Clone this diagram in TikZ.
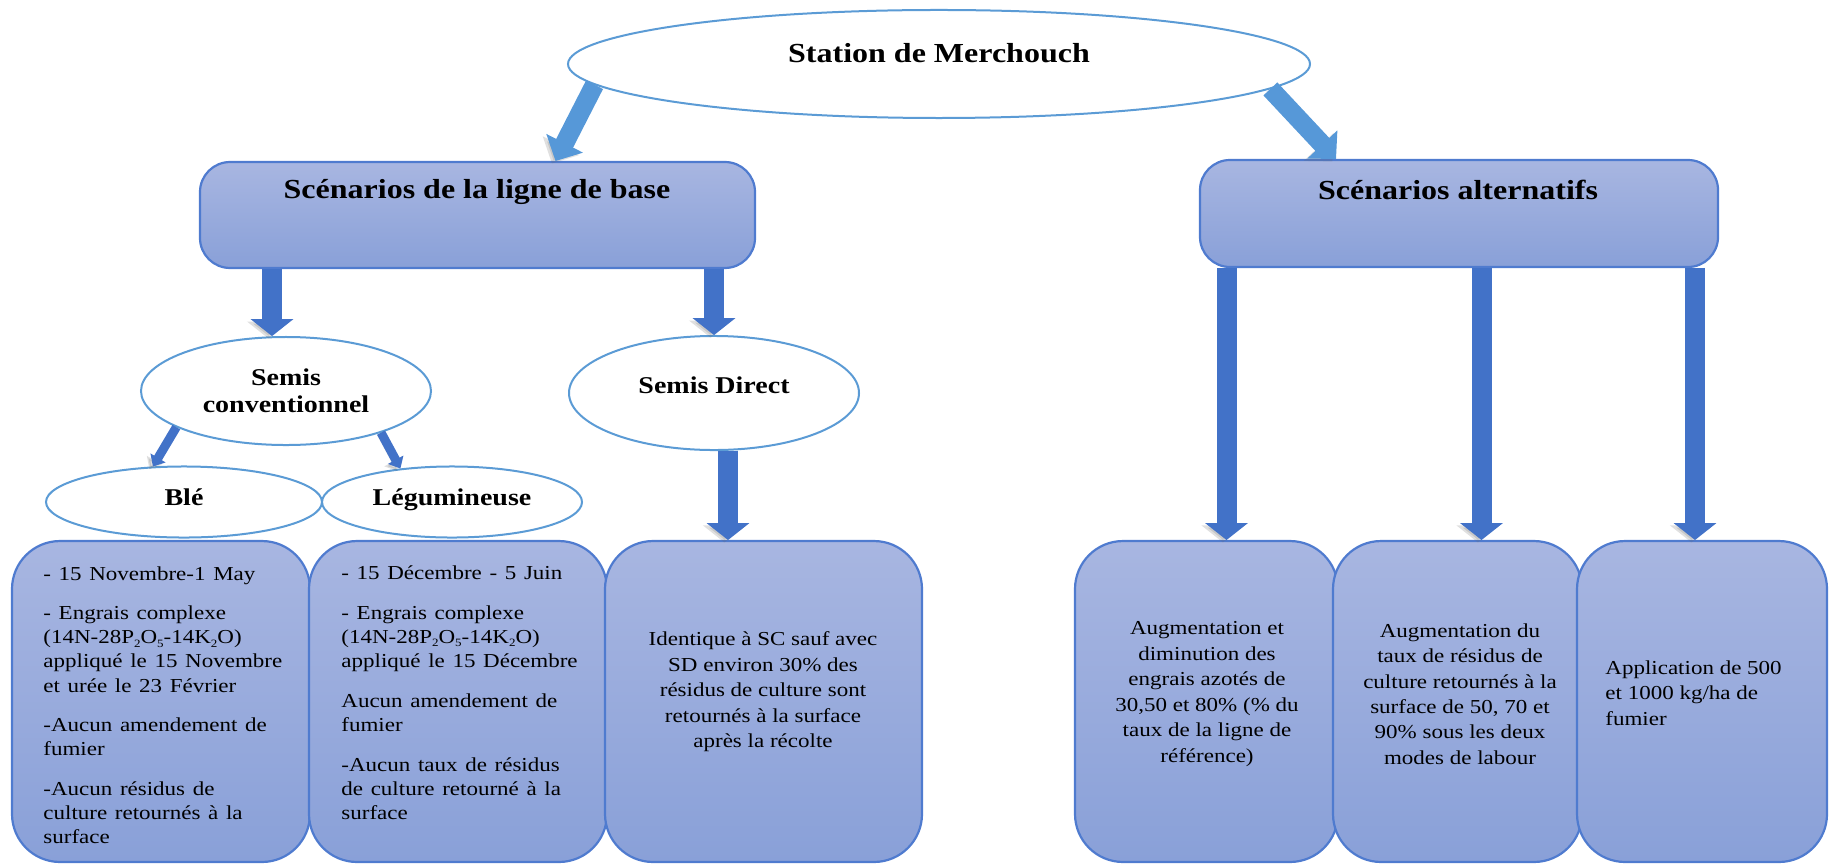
\documentclass[tikz,border=0pt]{standalone}
\usepackage{fontspec}
\setmainfont{Liberation Serif}
\usetikzlibrary{shapes.geometric,arrows.meta}

\definecolor{boxtop}{RGB}{168,182,225}
\definecolor{boxbot}{RGB}{137,160,216}
\definecolor{boxline}{RGB}{79,123,207}
\definecolor{ovalline}{RGB}{91,155,213}
\definecolor{arrowdark}{RGB}{66,114,200}
\definecolor{arrowlight}{RGB}{86,152,216}

% small lowered index for the fertiliser formula
\newcommand\chemsub[1]{\raisebox{-0.35ex}{\fontsize{6.5}{7}\selectfont #1}}

\begin{document}
\begin{tikzpicture}[x=0.5pt, y={(0pt,-0.5814pt)}, yscale=0.86,
  every node/.style={transform shape},
  oval/.style={ellipse, draw=ovalline, line width=1pt, fill=white, inner sep=0pt},
  panel/.style={rectangle, rounded corners=15pt, draw=boxline, line width=1.1pt,
                top color=boxtop, bottom color=boxbot, inner sep=0pt},
  card/.style={panel, rounded corners=24pt, minimum height=186.6pt},
  title/.style={font=\fontsize{16}{19}\selectfont\bfseries, inner sep=0pt},
  ovaltext/.style={font=\fontsize{14}{15.5}\selectfont\bfseries},
  body/.style={font=\fontsize{11.5}{14}\selectfont, inner sep=0pt},
  bodywide/.style={font=\fontsize{11.5}{14.8}\selectfont, inner sep=0pt},
  soft shadow/.style={preaction={draw=black!60, opacity=0.2,
                      transform canvas={shift={(-1.8pt,-1.2pt)}}}},
  bigarrow/.style={soft shadow, draw=arrowdark, line width=10pt,
                   -{Triangle[width=21pt,length=8.5pt]}},
  toparrow/.style={soft shadow, draw=arrowlight, line width=9.5pt,
                   -{Triangle[width=20pt,length=10pt]}},
  smallarrow/.style={soft shadow, draw=arrowdark, line width=4.5pt,
                     -{Triangle[width=8.5pt,length=5pt]}}
]
\useasboundingbox (0,0) rectangle (1829,864);

% root of the tree
\node[oval, title, minimum width=371pt, minimum height=62.8pt,
      text height=12pt, text depth=14.2pt] (st) at (939,64) {Station de Merchouch};

% the two scenario families
\node[panel, minimum width=277.5pt, minimum height=61.6pt] (lb) at (477.5,215) {};
\node[title] (lbt) at (477,192) {Scénarios de la ligne de base};
\node[panel, minimum width=259pt, minimum height=62.2pt] (alt) at (1459,213.5) {};
\node[title] (altt) at (1458,190) {Scénarios alternatifs};

% tillage systems and crops
\node[oval, ovaltext, align=center, minimum width=145pt, minimum height=62.8pt]
  (sc) at (286,391) {Semis\\conventionnel};
\node[oval, ovaltext, minimum width=145pt, minimum height=66.3pt,
      text height=10pt, text depth=10pt] (sd) at (714,393) {Semis Direct};
\node[oval, ovaltext, minimum width=138pt, minimum height=41.3pt,
      text height=10pt, text depth=5.4pt] (ble) at (184,502) {Blé};
\node[oval, ovaltext, minimum width=130pt, minimum height=41.3pt,
      text height=10pt, text depth=5.4pt] (leg) at (452,502) {Légumineuse};

% detail cards
\node[card, minimum width=149pt] (b1) at (161,701.5) {};
\node[card, minimum width=149pt] (b2) at (458,701.5) {};
\node[card, minimum width=158.5pt] (b3) at (763.5,701.5) {};
\node[card, minimum width=131.5pt] (b4) at (1206.5,701.5) {};
\node[card, minimum width=124.5pt] (b5) at (1457.5,701.5) {};
\node[card, minimum width=125pt] (b6) at (1702,701.5) {};

\node[body, text width=125pt, align=left, anchor=north west] (t1) at (43,566) {%
- 15 Novembre-1 May\\[9.1pt]
- Engrais complexe\\
(14N-28P\chemsub{2}O\chemsub{5}-14K\chemsub{2}O)\\
appliqué le 15 Novembre\\
et urée le 23 Février\\[9.1pt]
-Aucun amendement de\\
fumier\\[9.1pt]
-Aucun résidus de\\
culture retournés à la\\
surface};

\node[body, text width=125pt, align=left, anchor=north west] (t2) at (341,565) {%
- 15 Décembre - 5 Juin\\[9.3pt]
- Engrais complexe\\
(14N-28P\chemsub{2}O\chemsub{5}-14K\chemsub{2}O)\\
appliqué le 15 Décembre\\[9.3pt]
Aucun amendement de\\
fumier\\[9.3pt]
-Aucun taux de résidus\\
de culture retourné à la\\
surface};

\node[bodywide, align=center] (t3) at (763,692) {%
Identique à SC sauf avec\\
SD environ 30\% des\\
résidus de culture sont\\
retournés à la surface\\
après la récolte};

\node[bodywide, align=center] (t4) at (1207,694) {%
Augmentation et\\
diminution des\\
engrais azotés de\\
30,50 et 80\% (\% du\\
taux de la ligne de\\
référence)};

\node[bodywide, align=center] (t5) at (1460,694) {%
Augmentation du\\
taux de résidus de\\
culture retournés à la\\
surface de 50, 70 et\\
90\% sous les deux\\
modes de labour};

\node[bodywide, align=left, anchor=west] (t6) at (1605,693) {%
Application de 500\\
et 1000 kg/ha de\\
fumier};

% connectors
\coordinate (tL) at ([xshift=39pt]lb.north);
\coordinate (tR) at ([xshift=-61.5pt]alt.north);
\draw[toparrow] (st.184.5) -- (tL);
\draw[toparrow] (st.-5) -- (tR);

\coordinate (a1) at ([xshift=-7pt]sc.north);
\draw[bigarrow] (lb.south -| a1) -- (a1);
\draw[bigarrow] (lb.south -| sd.north) -- (sd.north);

\draw[smallarrow] (sc.201) -- (ble.127);
\draw[smallarrow] (sc.-27.4) -- (leg.143);

\coordinate (a3) at ([xshift=7pt]sd.south);
\draw[bigarrow] (a3) -- (a3 |- b3.north);

\coordinate (a4) at ([xshift=10pt]b4.north);
\coordinate (a5) at ([xshift=12pt]b5.north);
\coordinate (a6) at ([xshift=-3.5pt]b6.north);
\draw[bigarrow] (alt.south -| a4) -- (a4);
\draw[bigarrow] (alt.south -| a5) -- (a5);
\draw[bigarrow] (alt.south -| a6) -- (a6);
\end{tikzpicture}
\end{document}
